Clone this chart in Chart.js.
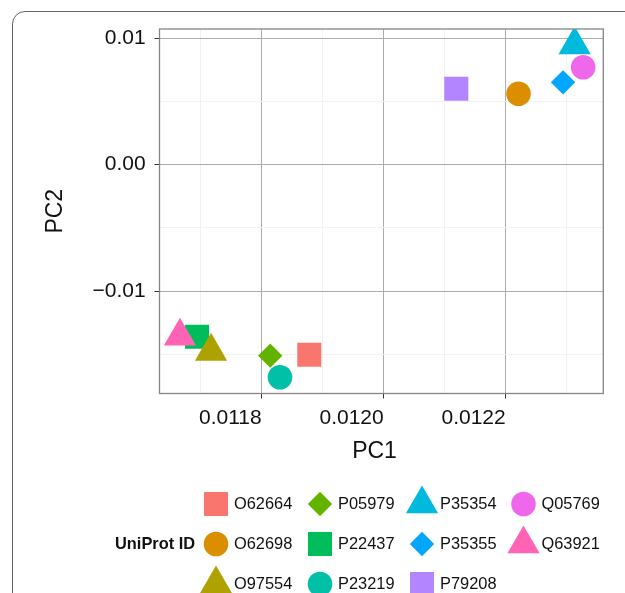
<!DOCTYPE html>
<html><head><meta charset="utf-8">
<script src="https://cdn.jsdelivr.net/npm/chart.js@4.4.1/dist/chart.umd.min.js"></script>
<style>
html,body{margin:0;padding:0;background:#fff;overflow:hidden;width:625px;height:593px;}
#frame{position:absolute;left:11.5px;top:10.5px;width:700px;height:700px;border:1.3px solid #666;border-radius:13px;box-sizing:border-box;}
#c{position:absolute;left:0;top:0;}
</style></head><body>
<div id="frame"></div>
<canvas id="c" width="625" height="593"></canvas>
<script>
// ---- data ----
const ids = ['O62664','O62698','O97554','P05979','P22437','P23219','P35354','P35355','P79208','Q05769','Q63921'];
const pc1 = [0.011878, 0.012221, 0.011717, 0.011814, 0.011694, 0.011830, 0.012313, 0.012294, 0.012119, 0.012327, 0.011666];
const pc2 = [-0.01501, 0.00560, -0.01474, -0.01508, -0.01359, -0.01679, 0.00946, 0.00650, 0.00600, 0.00769, -0.01355];
const xTickValues = [0.0118, 0.0120, 0.0122];
const xTickLabels = ['0.0118', '0.0120', '0.0122'];
const xMinorValues = [0.0117, 0.0119, 0.0121, 0.0123];
const yTickValues = [-0.01, 0, 0.01];
const yTickLabels = ['\u22120.01', '0.00', '0.01'];
const yMinorValues = [-0.015, -0.005, 0.005];
const xRange = [0.0116325, 0.01236];
const yRange = [-0.01807, 0.010711];
const legendTitle = 'UniProt ID';
const xTitle = 'PC1';
const yTitle = 'PC2';

// ---- styles ----
const colors = ['#F8766D','#DB8E00','#AEA200','#64B200','#00BD5C','#00C1A7','#00BADE','#00A6FF','#B385FF','#EF67EB','#FF63B6'];
const shapes = ['rect','circle','triangle','rectRot','rect','circle','triangle','rectRot','rect','circle','triangle'];
const shapeRadius = {rect: 17, circle: 12.3, triangle: 18.6, rectRot: 12.2};
const drawSequence = ['P22437','O97554','Q63921','P05979','P23219','O62664','P79208','O62698','P35355','P35354','Q05769'];
const FONT = '"Liberation Sans", Arial, Helvetica, sans-serif';

const near = (a, b) => Math.abs(a - b) < 1e-9;
const isMajor = (v, arr) => arr.some(t => near(t, v));
const labelFor = (v, vals, labs) => { const i = vals.findIndex(t => near(t, v)); return i >= 0 ? labs[i] : ''; };

function ownDrawPoint(ctx, style, r, x, y) {
  ctx.beginPath();
  if (style === 'circle') { ctx.arc(x, y, r, 0, Math.PI * 2); }
  else if (style === 'rect') { const s = Math.SQRT1_2 * r; ctx.rect(x - s, y - s, 2 * s, 2 * s); }
  else if (style === 'rectRot') { ctx.moveTo(x - r, y); ctx.lineTo(x, y - r); ctx.lineTo(x + r, y); ctx.lineTo(x, y + r); ctx.closePath(); }
  else if (style === 'triangle') {
    let a = 0;
    ctx.moveTo(x + Math.sin(a) * r, y - Math.cos(a) * r); a += 2 * Math.PI / 3;
    ctx.lineTo(x + Math.sin(a) * r, y - Math.cos(a) * r); a += 2 * Math.PI / 3;
    ctx.lineTo(x + Math.sin(a) * r, y - Math.cos(a) * r); ctx.closePath();
  }
  ctx.fill();
}

const panelBorder = {
  id: 'panelBorder',
  afterDatasetsDraw(chart) {
    const {ctx, chartArea: a} = chart;
    ctx.save();
    ctx.strokeStyle = '#858585';
    ctx.lineWidth = 1.3;
    ctx.strokeRect(a.left, a.top, a.right - a.left, a.bottom - a.top);
    ctx.restore();
  }
};

const xTitlePos = [374.5, 451.7];
const xAxisTitle = {
  id: 'xAxisTitle',
  afterDraw(chart) {
    const ctx = chart.ctx;
    ctx.save();
    ctx.fillStyle = '#111';
    ctx.font = '23px ' + FONT;
    ctx.textAlign = 'center';
    ctx.textBaseline = 'middle';
    ctx.fillText(xTitle, xTitlePos[0], xTitlePos[1]);
    ctx.restore();
  }
};

const legendCols = [216, 320, 422, 523.5];
const legendRows = [504, 544, 584];
const customLegend = {
  id: 'customLegend',
  afterDraw(chart) {
    const ctx = chart.ctx;
    ctx.save();
    ctx.fillStyle = '#111';
    ctx.font = 'bold 16.4px ' + FONT;
    ctx.textBaseline = 'middle';
    ctx.textAlign = 'left';
    ctx.fillText(legendTitle, 115, legendRows[1]);
    ids.forEach((id, i) => {
      const cx = legendCols[Math.floor(i / 3)];
      const cy = legendRows[i % 3];
      ctx.fillStyle = colors[i];
      const st = shapes[i], r = shapeRadius[st];
      if (Chart.helpers && Chart.helpers.drawPoint) {
        Chart.helpers.drawPoint(ctx, {pointStyle: st, radius: r, rotation: 0, borderWidth: 0}, cx, cy);
      } else {
        ownDrawPoint(ctx, st, r, cx, cy);
      }
      ctx.fillStyle = '#111';
      ctx.font = '16.4px ' + FONT;
      ctx.fillText(id, cx + 18, cy);
    });
    ctx.restore();
  }
};

const datasets = ids.map((id, i) => ({
  label: id,
  data: [{x: pc1[i], y: pc2[i]}],
  pointStyle: shapes[i],
  pointRadius: shapeRadius[shapes[i]],
  pointHoverRadius: shapeRadius[shapes[i]],
  pointBackgroundColor: colors[i],
  pointBorderWidth: 0,
  pointHoverBorderWidth: 0,
  showLine: false,
  clip: 0,
  order: drawSequence.length - 1 - drawSequence.indexOf(id)
}));

new Chart(document.getElementById('c'), {
  type: 'scatter',
  data: {datasets},
  plugins: [panelBorder, xAxisTitle, customLegend],
  options: {
    responsive: false,
    animation: false,
    events: [],
    layout: {padding: {left: 0, top: 29, right: 21.7, bottom: 0}},
    plugins: {legend: {display: false}, tooltip: {enabled: false}},
    scales: {
      x: {
        type: 'linear', position: 'bottom',
        min: xRange[0], max: xRange[1],
        afterBuildTicks: s => { s.ticks = [...xMinorValues, ...xTickValues].sort((a, b) => a - b).map(v => ({value: v})); },
        afterFit: s => { s.height = 593 - 393.5; },
        ticks: {
          autoSkip: false, maxRotation: 0, minRotation: 0, align: 'end', padding: 7,
          color: '#111', font: {family: FONT, size: 21},
          callback: v => labelFor(v, xTickValues, xTickLabels)
        },
        grid: {
          color: c => (c.tick && isMajor(c.tick.value, xTickValues)) ? '#adadad' : '#f2f2f2',
          lineWidth: 1,
          tickLength: 5,
          tickColor: c => (c.tick && isMajor(c.tick.value, xTickValues)) ? '#333' : 'rgba(0,0,0,0)',
          offset: false
        },
        border: {display: false},
        title: {display: false}
      },
      y: {
        type: 'linear', position: 'left',
        min: yRange[0], max: yRange[1],
        afterBuildTicks: s => { s.ticks = [...yMinorValues, ...yTickValues].sort((a, b) => a - b).map(v => ({value: v})); },
        afterFit: s => { s.width = 159.5; },
        ticks: {
          autoSkip: false, padding: 8.8,
          color: '#111', font: {family: FONT, size: 21},
          callback: v => labelFor(v, yTickValues, yTickLabels)
        },
        grid: {
          color: c => (c.tick && isMajor(c.tick.value, yTickValues)) ? '#adadad' : '#f2f2f2',
          lineWidth: 1,
          tickLength: 5,
          tickColor: c => (c.tick && isMajor(c.tick.value, yTickValues)) ? '#333' : 'rgba(0,0,0,0)'
        },
        border: {display: false},
        title: {display: true, text: yTitle, color: '#111', font: {family: FONT, size: 23}, padding: {top: 42, bottom: 0}}
      }
    }
  }
});
</script>
</body></html>
